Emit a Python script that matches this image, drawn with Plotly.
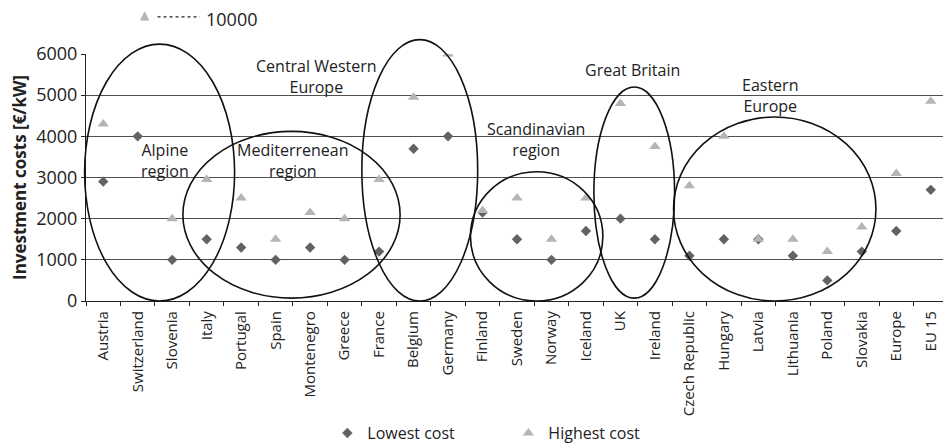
import plotly.graph_objects as go

countries = ["Austria", "Switzerland", "Slovenia", "Italy", "Portugal", "Spain", "Montenegro",
             "Greece", "France", "Belgium", "Germany", "Finland", "Sweden", "Norway", "Iceland",
             "UK", "Ireland", "Czech Republic", "Hungary", "Latvia", "Lithuania", "Poland",
             "Slovakia", "Europe", "EU 15"]
lowest_cost = [2900, 4000, 1000, 1500, 1300, 1000, 1300, 1000, 1200, 3700, 4000, 2150, 1500,
               1000, 1700, 2000, 1500, 1100, 1500, 1500, 1100, 500, 1200, 1700, 2700]
highest_cost = [4300, 10000, 2000, 2950, 2500, 1500, 2150, 2000, 2950, 4950, 6000, 2200, 2500,
                1500, 2500, 4800, 3750, 2800, 4000, 1500, 1500, 1200, 1800, 3100, 4850]
y_ticks = [0, 1000, 2000, 3000, 4000, 5000, 6000]

# regions: label, label position (category index, value), ellipse (x0, x1, y0, y1)
region_labels = ["Alpine<br>region", "Mediterrenean<br>region", "Central Western<br>Europe",
                 "Scandinavian<br>region", "Great Britain", "Eastern<br>Europe"]
label_x = [1.78, 5.5, 6.18, 12.56, 15.34, 19.35]
label_y = [3420, 3410, 5450, 3920, 5600, 4990]
ell_x0 = [-0.54, 2.31, 7.50, 10.65, 14.23, 16.54]
ell_x1 = [3.81, 8.61, 10.86, 14.49, 16.57, 22.41]
ell_y0 = [0, 70, 0, 0, 70, 0]
ell_y1 = [6240, 4120, 6350, 3140, 5200, 4470]

FONT = "Open Sans"
ymax = 6000
n = len(countries)
dark = "#626262"
light = "#b5b5b5"
ink = "#222222"


def px(xc):  # category index -> paper x
    return (xc + 0.5) / n


def py(v):  # value -> paper y
    return v / ymax


fig = go.Figure()
fig.add_trace(go.Scatter(x=countries, y=lowest_cost, mode="markers", name="Lowest cost",
                         marker=dict(symbol="diamond", size=8, color=dark)))
fig.add_trace(go.Scatter(x=countries, y=highest_cost, mode="markers", name="Highest cost",
                         marker=dict(symbol="triangle-up", size=10, color=light)))

shapes = []
for x0, x1, y0, y1 in zip(ell_x0, ell_x1, ell_y0, ell_y1):
    shapes.append(dict(type="circle", xref="paper", yref="paper",
                       x0=px(x0), x1=px(x1), y0=py(y0), y1=py(y1),
                       line=dict(color="#111111", width=1.6)))

annotations = []
for t, x, y in zip(region_labels, label_x, label_y):
    annotations.append(dict(x=x, y=y, xref="x", yref="y", text=t, showarrow=False,
                            font=dict(family=FONT, size=16, color=ink)))

# off-scale values indicator
for i, (c, v) in enumerate(zip(countries, highest_cost)):
    if v > ymax:
        annotations.append(dict(x=px(i), y=1.158, xref="paper", yref="paper", text="▲",
                                showarrow=False, yanchor="middle",
                                font=dict(family="DejaVu Sans", size=12, color=light)))
        shapes.append(dict(type="line", xref="paper", yref="paper", x0=0.083, x1=0.132,
                           y0=1.150, y1=1.150, line=dict(color=ink, width=1.3, dash="dot")))
        annotations.append(dict(x=0.137, y=1.142, xref="paper", yref="paper", text=str(v),
                                showarrow=False, xanchor="left", yanchor="middle",
                                font=dict(family=FONT, size=18, color=ink)))

# the page adds an 8px body margin, so the figure is sized to fit the 951x443 window
fig.update_layout(
    width=943, height=435,
    margin=dict(l=78, r=3, t=46, b=142, autoexpand=False),
    paper_bgcolor="white", plot_bgcolor="white",
    font=dict(family=FONT, color=ink),
    showlegend=True,
    legend=dict(orientation="h", x=0.280, xanchor="left", y=-0.535, yanchor="middle",
                bgcolor="rgba(0,0,0,0)",
                font=dict(family=FONT, size=16), itemwidth=30, entrywidth=136,
                entrywidthmode="pixels", traceorder="normal"),
    shapes=shapes, annotations=annotations,
)
fig.update_xaxes(type="category", range=[-0.5, n - 0.5], tickangle=-90,
                 tickfont=dict(family=FONT, size=15), showgrid=False, automargin=False,
                 showline=True, linecolor=ink, linewidth=1.2, mirror=False,
                 ticks="outside", tickson="boundaries", ticklen=4, tickcolor=ink,
                 ticklabelstandoff=3)
fig.update_yaxes(range=[0, ymax], tickvals=y_ticks, tickfont=dict(family=FONT, size=18),
                 showgrid=True, gridcolor="#505050", gridwidth=1.1, automargin=False,
                 showline=True, linecolor=ink, linewidth=1.2,
                 ticks="outside", ticklen=4, tickcolor=ink,
                 title=dict(text="<b>Investment costs [€/kW]</b>", font=dict(family=FONT, size=17),
                            standoff=6))
# right frame line
fig.add_shape(type="line", xref="paper", yref="paper", x0=1, x1=1, y0=0, y1=1,
              line=dict(color="#555555", width=1.2))

fig.write_html("out.html")
